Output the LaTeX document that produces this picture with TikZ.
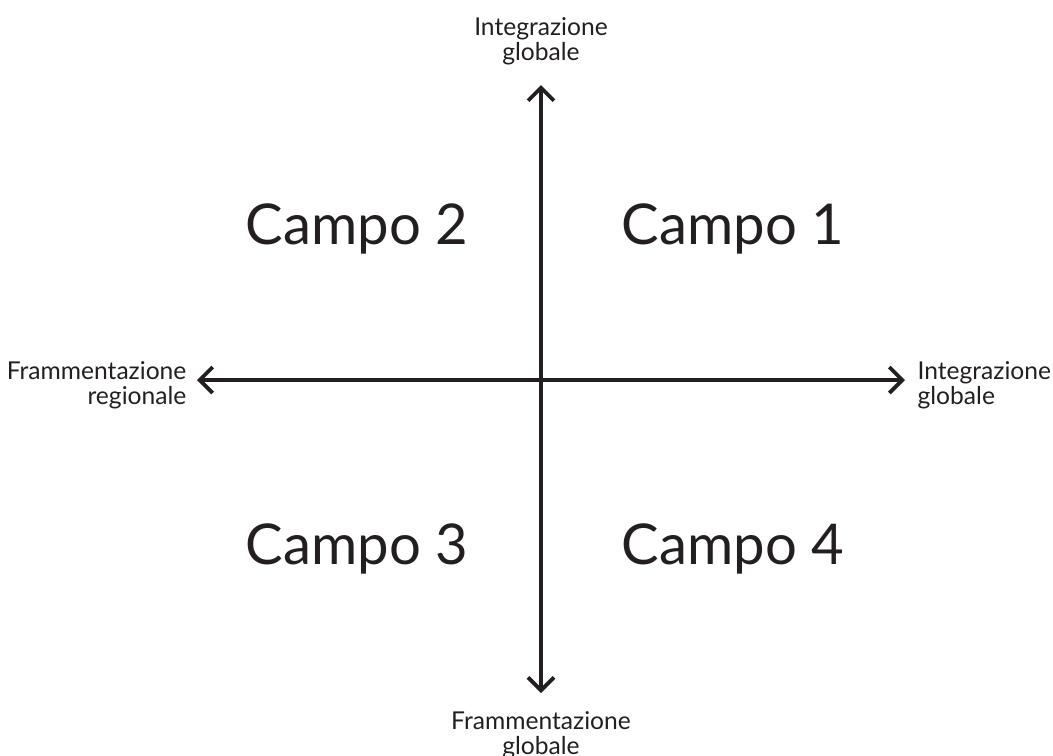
\documentclass[tikz,border=0pt]{standalone}
\usepackage{fontspec}
\setmainfont{Lato}
\usetikzlibrary{arrows.meta}
\definecolor{ink}{HTML}{231F20}
\begin{document}
\begin{tikzpicture}[line width=1.1pt,color=ink,>={Straight Barb[length=1.3mm,width=2.6mm]}]
\useasboundingbox (0,0) rectangle (10.53,7.55);
\tikzset{campo/.style={font=\fontsize{16}{19}\selectfont},
  axlabel/.style={font=\fontsize{7}{7.1}\selectfont,align=center}}
% axes
\coordinate (o) at (5.41,3.75);
\coordinate (top) at (5.41,6.70);
\coordinate (bottom) at (5.41,0.62);
\coordinate (left) at (1.97,3.75);
\coordinate (right) at (9.05,3.75);
\draw[<->] (bottom) -- (top);
\draw[<->] (left) -- (right);
% axis labels
\node[axlabel,above] (toplab) at (5.41,6.76) {Integrazione\\globale};
\node[axlabel,below] (botlab) at (5.41,0.57) {Frammentazione\\globale};
\node[axlabel,align=right,left] (leftlab) at (2.00,3.70) {Frammentazione\\regionale};
\node[axlabel,align=left,right] (rightlab) at (9.04,3.70) {Integrazione\\globale};
% quadrants
\node[campo] (c2) at (3.57,5.26) {Campo 2};
\node[campo] (c1) at (7.33,5.26) {Campo 1};
\node[campo] (c3) at (3.57,2.06) {Campo 3};
\node[campo] (c4) at (7.33,2.06) {Campo 4};
\end{tikzpicture}
\end{document}
